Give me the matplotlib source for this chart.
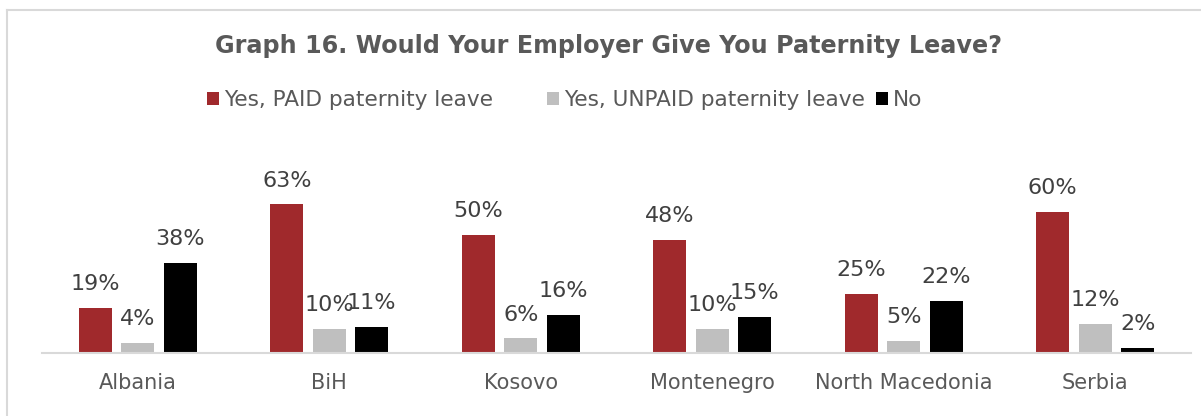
import numpy as np
import matplotlib.pyplot as plt
from matplotlib.lines import Line2D

countries = ['Albania', 'BiH', 'Kosovo', 'Montenegro', 'North Macedonia', 'Serbia']
series_names = ['Yes, PAID paternity leave', 'Yes, UNPAID paternity leave', 'No']
paid = [19, 63, 50, 48, 25, 60]
unpaid = [4, 10, 6, 10, 5, 12]
no = [38, 11, 16, 15, 22, 2]

colors = ['#A0292C', '#BFBFBF', '#000000']
plt.rcParams['font.family'] = ['DejaVu Sans']

fig = plt.figure(figsize=(12.01, 4.16), dpi=100)
ax = fig.add_axes([0.035, 0.1526, 0.9567, 0.3954])

x = np.arange(len(countries))
width = 0.174
step = 0.222
handles = []
for i, (vals, name, c) in enumerate(zip([paid, unpaid, no], series_names, colors)):
    pos = x + (i - 1) * step
    bars = ax.bar(pos, vals, width, color=c, label=name)
    handles.append(bars)
    for b, v in zip(bars, vals):
        ax.annotate(f'{v}%', (b.get_x() + b.get_width() / 2, v),
                    xytext=(0, 10), textcoords='offset points',
                    ha='center', va='bottom', fontsize=16, color='#404040',
                    annotation_clip=False)

ax.set_xlim(-0.5, len(countries) - 0.5)
ax.set_ylim(0, 70)
ax.set_xticks(x)
ax.set_xticklabels(countries, fontsize=15, color='#595959')
ax.tick_params(axis='x', length=0, pad=15)
ax.set_yticks([])
for s in ['top', 'right', 'left']:
    ax.spines[s].set_visible(False)
ax.spines['bottom'].set_color('#D9D9D9')
ax.spines['bottom'].set_linewidth(1.5)

fig.text(0.507, 0.89, 'Graph 16. Would Your Employer Give You Paternity Leave?',
         ha='center', va='center', fontsize=17.2, fontweight='bold', color='#595959')

# legend entries placed one by one (Excel-style spacing)
legend_x = [207, 547, 876]
for h, name, lx in zip(handles, series_names, legend_x):
    leg = fig.legend([h], [name], loc='center left', bbox_to_anchor=(lx / 1201, 0.76),
                     frameon=False, fontsize=15.6, handlelength=0.56, handleheight=0.56,
                     handletextpad=0.22, labelcolor='#595959',
                     borderaxespad=0, borderpad=0)

# outer frame, only top and left edges visible
fig.add_artist(Line2D([0.0058, 1.0], [0.976, 0.976], color='#D9D9D9', lw=1.5))
fig.add_artist(Line2D([0.0058, 0.0058], [0.0, 0.976], color='#D9D9D9', lw=1.5))

fig.savefig('out.png', dpi=100)
